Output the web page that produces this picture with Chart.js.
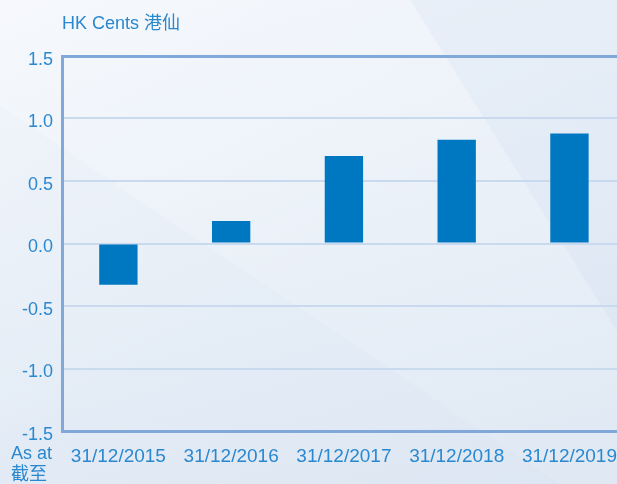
<!DOCTYPE html>
<html>
<head>
<meta charset="utf-8">
<script src="https://cdn.jsdelivr.net/npm/chart.js@4"></script>
<style>
    html, body {
        margin: 0;
        padding: 0;
        width: 617px;
        height: 484px;
        overflow: hidden;
        font-family: "Liberation Sans", "Noto Sans CJK TC", sans-serif;
    }
    body {
        position: relative;
        background:
            linear-gradient(58deg, rgba(255,255,255,0) 77.5%, rgba(185,205,232,0.15) 77.5%),
            linear-gradient(214deg, rgba(255,255,255,0) 58%, rgba(185,205,232,0.07) 58%),
            linear-gradient(150deg, rgba(255,255,255,0.35) 0%, rgba(255,255,255,0) 55%),
            linear-gradient(165deg, #f1f5fb 0%, #e9f0f8 55%, #dfe8f3 100%);
    }
    #wrap {
        position: absolute;
        left: 0;
        top: 0;
        width: 631px;
        height: 484px;
    }
    .label {
        position: absolute;
        color: #2a88cf;
        font-size: 18px;
        line-height: 21px;
        white-space: nowrap;
    }
</style>
</head>
<body>
<div id="wrap"><canvas id="epsChart"></canvas></div>
<div class="label" style="left:62px; top:13px;">HK Cents 港仙</div>
<div class="label" style="left:11px; top:443px;">As at<br>截至</div>

<script>
// Chart data
const categories = ['31/12/2015', '31/12/2016', '31/12/2017', '31/12/2018', '31/12/2019'];
const values = [-0.33, 0.18, 0.70, 0.83, 0.88];
const yTicks = [-1.5, -1.0, -0.5, 0.0, 0.5, 1.0, 1.5];

const textColor = '#2a88cf';
const barColor = '#0077c1';
const frameColor = '#80a9da';
const gridColor = '#c9daee';

Chart.defaults.font.family = '"Liberation Sans", "Noto Sans CJK TC", sans-serif';

function renderChart() {
    const ctx = document.getElementById('epsChart').getContext('2d');

    new Chart(ctx, {
        type: 'bar',
        data: {
            labels: categories,
            datasets: [{
                data: values,
                backgroundColor: barColor,
                borderWidth: 0,
                barPercentage: 1,
                categoryPercentage: 0.34
            }]
        },
        options: {
            responsive: true,
            maintainAspectRatio: false,
            animation: false,
            layout: { padding: { top: 56, right: 0, left: 0, bottom: 0 } },
            plugins: {
                legend: { display: false },
                tooltip: { enabled: false }
            },
            scales: {
                x: {
                    grid: { display: false, drawTicks: false },
                    border: { display: true, color: frameColor, width: 3 },
                    ticks: {
                        color: textColor,
                        font: { size: 19 },
                        padding: 14,
                        maxRotation: 0,
                        autoSkip: false
                    },
                    afterFit: s => { s.height = 53; }
                },
                y: {
                    min: yTicks[0],
                    max: yTicks[yTicks.length - 1],
                    afterBuildTicks: s => { s.ticks = yTicks.map(v => ({ value: v })); },
                    grid: {
                        drawTicks: false,
                        color: c => c.tick && c.tick.value === 1.5 ? frameColor : gridColor,
                        lineWidth: c => c.tick && c.tick.value === 1.5 ? 3 : 2
                    },
                    border: { display: true, color: frameColor, width: 3 },
                    ticks: {
                        color: textColor,
                        font: { size: 18 },
                        padding: 9,
                        labelOffset: 4,
                        callback: v => v.toFixed(1)
                    },
                    afterFit: s => { s.width = 62; }
                }
            }
        }
    });
}

renderChart();
</script>
</body>
</html>
